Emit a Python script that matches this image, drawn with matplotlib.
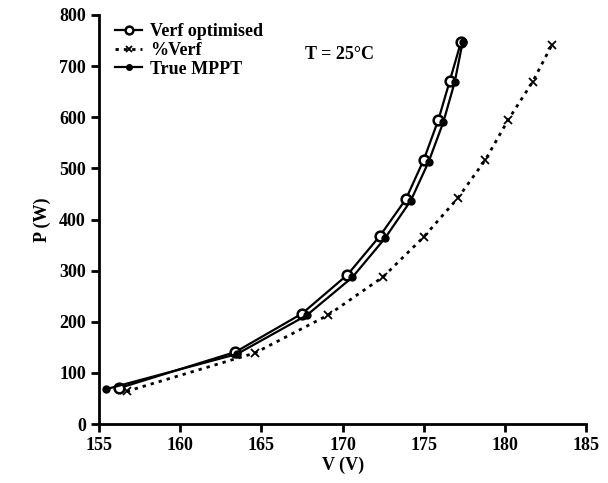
import matplotlib as mpl
import matplotlib.pyplot as plt

mpl.rcParams['font.family'] = ['Liberation Serif', 'DejaVu Serif']
mpl.rcParams['font.weight'] = 'bold'

# Verf optimised
v_opt = [156.2, 163.4, 167.5, 170.3, 172.3, 173.9, 175.0, 175.9, 176.6, 177.3]
p_opt = [70, 141, 216, 292, 368, 440, 517, 595, 671, 748]
# %Verf
v_pct = [156.7, 164.6, 169.1, 172.5, 175.0, 177.1, 178.8, 180.2, 181.7, 182.9]
p_pct = [64, 139, 213, 288, 366, 442, 517, 595, 669, 742]
# True MPPT
v_mppt = [155.4, 163.5, 167.8, 170.6, 172.6, 174.2, 175.3, 176.2, 176.9, 177.4]
p_mppt = [68, 137, 213, 287, 363, 437, 513, 590, 668, 748]

fig = plt.figure(figsize=(6.08, 4.83), dpi=100)
ax = fig.add_axes([0.163, 0.122, 0.801, 0.847])

ax.plot(v_opt, p_opt, '-', color='black', lw=1.6, marker='o', ms=7,
        mfc='white', mec='black', mew=1.8, label='Verf optimised', zorder=3)
ax.plot(v_pct, p_pct, color='black', lw=2.0, ls=(0, (1.2, 1.8)), marker='x', ms=6,
        mew=1.3, label='%Verf', zorder=2)
ax.plot(v_mppt, p_mppt, '-', color='black', lw=1.6, marker='o', ms=5,
        mfc='black', mec='black', label='True MPPT', zorder=4)

ax.set_xlim(155, 185)
ax.set_ylim(0, 800)
ax.set_xticks([155, 160, 165, 170, 175, 180, 185])
ax.set_yticks(range(0, 801, 100))
ax.spines['top'].set_visible(False)
ax.spines['right'].set_visible(False)
ax.spines['left'].set_linewidth(2)
ax.spines['bottom'].set_linewidth(2)
ax.tick_params(width=2, length=6, labelsize=13)
for lab in ax.get_xticklabels() + ax.get_yticklabels():
    lab.set_fontweight('bold')

ax.set_xlabel('V (V)', fontsize=13, fontweight='bold', labelpad=2)
ax.set_ylabel('P (W)', fontsize=13, fontweight='bold', labelpad=6)

ax.text(167.7, 722, 'T = 25°C', fontsize=13, fontweight='bold', va='center')

ax.legend(loc='upper left', bbox_to_anchor=(0.0, 1.02), frameon=False,
          fontsize=13, handlelength=1.5, handletextpad=0.4, labelspacing=0.1,
          markerscale=0.8)

fig.savefig('out.png', dpi=100)
